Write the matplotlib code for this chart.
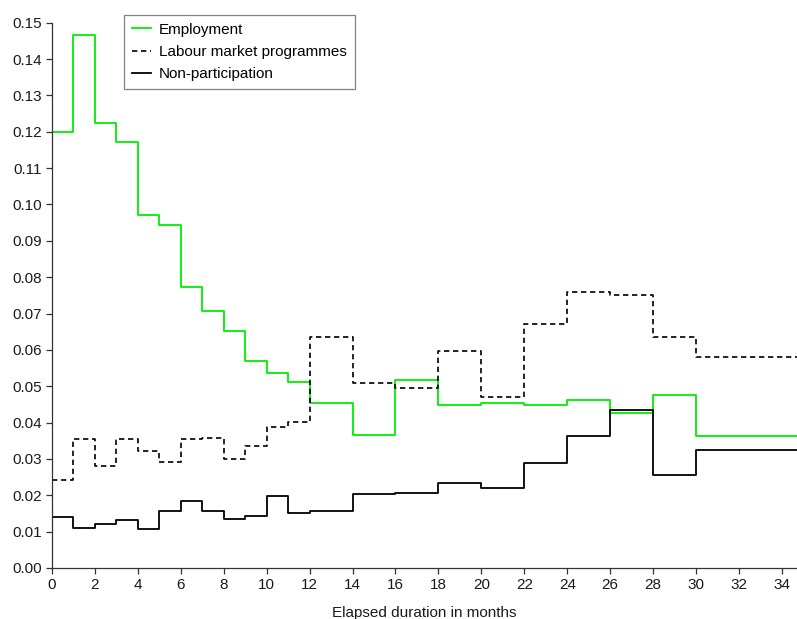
import numpy as np
import matplotlib
matplotlib.use("Agg")
import matplotlib.pyplot as plt

plt.rcParams["font.family"] = ["Liberation Sans", "DejaVu Sans"]

# interval edges in months (last interval open, runs past the axis)
edges = [0, 1, 2, 3, 4, 5, 6, 7, 8, 9, 10, 11, 12, 14, 16, 18, 20, 22, 24, 26, 28, 30, 36]

employment = [0.1198, 0.1467, 0.1225, 0.1172, 0.0971, 0.0943, 0.0772, 0.0708,
              0.0653, 0.0569, 0.0535, 0.0511, 0.0454, 0.0366, 0.0517, 0.0449,
              0.0455, 0.0448, 0.0462, 0.0426, 0.0477, 0.0363]
programmes = [0.0241, 0.0354, 0.0281, 0.0354, 0.0322, 0.0292, 0.0354, 0.0358,
              0.0299, 0.0336, 0.0388, 0.0401, 0.0634, 0.0508, 0.0496, 0.0598,
              0.0470, 0.0672, 0.0758, 0.0751, 0.0636, 0.0581]
nonpart = [0.0141, 0.0111, 0.0122, 0.0132, 0.0108, 0.0158, 0.0185, 0.0156,
           0.0135, 0.0143, 0.0197, 0.0152, 0.0156, 0.0203, 0.0206, 0.0235,
           0.0220, 0.0288, 0.0364, 0.0434, 0.0255, 0.0325]

yticks = np.arange(0, 0.151, 0.01)
xticks = np.arange(0, 35, 2)
FS = 11


def steps(vals):
    return list(vals) + [vals[-1]]


fig = plt.figure(figsize=(7.97, 6.19), dpi=100)
ax = fig.add_axes([0.0652, 0.0824, 0.9348, 0.881])

ax.step(edges, steps(employment), where="post", color="#00ee00", lw=1.3,
        label="Employment")
ax.step(edges, steps(programmes), where="post", color="black", lw=1.2,
        ls=(0, (3.2, 2.2)), label="Labour market programmes")
ax.step(edges, steps(nonpart), where="post", color="black", lw=1.3,
        label="Non-participation")

ax.set_xlim(0, 34.7)
ax.set_ylim(0, 0.15)
ax.set_xticks(xticks)
ax.set_yticks(yticks)
ax.set_yticklabels([f"{v:.2f}" for v in yticks])
ax.tick_params(labelsize=FS, length=4, width=0.9, color="#333333",
               labelcolor="#1a1a1a", pad=3)
for side in ("top", "right"):
    ax.spines[side].set_visible(False)
for side in ("left", "bottom"):
    ax.spines[side].set_color("#333333")
    ax.spines[side].set_linewidth(0.9)

ax.set_xlabel("Elapsed duration in months", fontsize=FS, color="#1a1a1a",
              labelpad=10)

leg = fig.legend(loc="upper left", bbox_to_anchor=(124 / 797, 1 - 15 / 619),
                 fontsize=FS, frameon=True, fancybox=False, handlelength=1.25,
                 handletextpad=0.55, labelspacing=0.55, borderpad=0.5,
                 borderaxespad=0)
leg.get_frame().set_edgecolor("#666666")
leg.get_frame().set_linewidth(0.9)

fig.savefig("out.png", dpi=100)
